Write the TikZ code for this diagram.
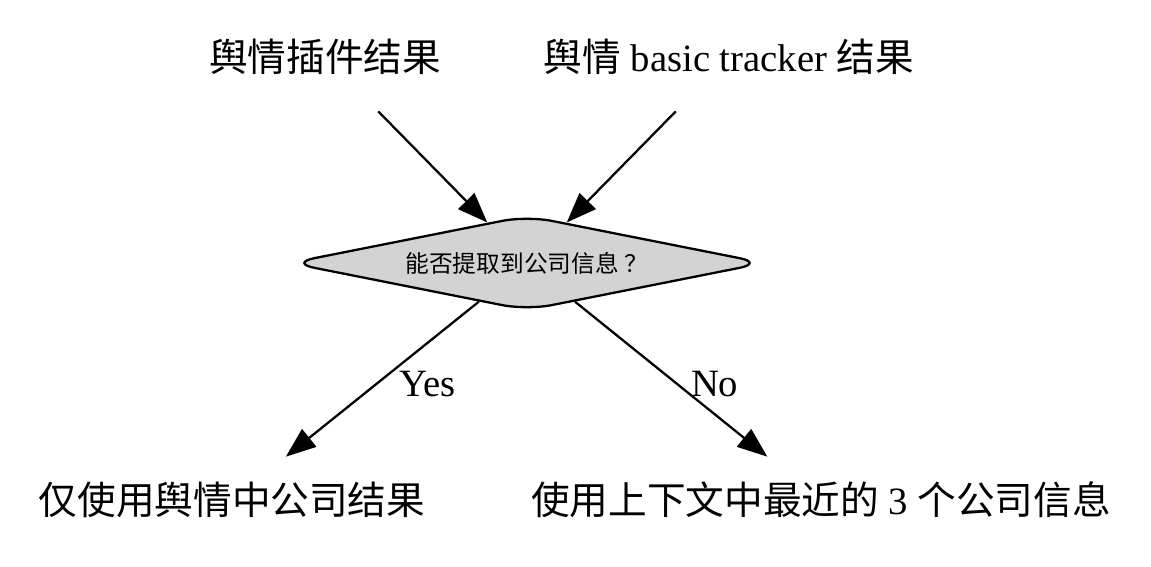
\documentclass[tikz,border=0pt]{standalone}
\usepackage{fontspec}
\setmainfont{Liberation Serif}
\newfontfamily\cjk{Noto Sans CJK SC}
\usepackage{tikz}
\usetikzlibrary{shapes.geometric, arrows.meta, positioning}
\usepackage{xcolor}
\definecolor{lgrey}{HTML}{D3D3D3}

\begin{document}
\begin{tikzpicture}[x=0.02cm, y=-0.02cm,
	txt/.style={font=\fontsize{22}{26}\selectfont, inner sep=0pt, minimum width=4cm},
	lbl/.style={font=\fontsize{22}{26}\selectfont},
	edge/.style={-{Triangle[length=0.6cm, width=0.45cm]}, line width=1.3pt}]
	\useasboundingbox (0,0) rectangle (1151,567);
	% sources
	\node[txt, minimum height=2.16cm] (plug) at (325,57) {\cjk 舆情插件结果};
	\node[txt, minimum height=2.16cm] (basic) at (729,57) {{\cjk 舆情} basic tracker {\cjk 结果}};
	% decision
	\node[diamond, aspect=5.1, draw, fill=lgrey, line width=1.3pt, rounded corners=0.5cm,
		minimum width=9.5cm, minimum height=1.9cm, inner sep=0pt,
		font=\fontsize{13.5}{16}\selectfont] (ask) at (527,263) {\cjk 能否提取到公司信息\kern0.25em？};
	% results
	\node[txt, minimum height=1.72cm] (yes) at (232,500) {\cjk 仅使用舆情中公司结果};
	\node[txt, minimum height=1.72cm] (no) at (821,500) {{\cjk 使用上下文中最近的} 3 {\cjk 个公司信息}};
	
	\draw[edge] (plug) -- (ask);
	\draw[edge] (basic) -- (ask);
	\draw[edge] (ask) -- node[lbl, pos=0.53, anchor=west, xshift=0.32cm] {Yes} (yes);
	\draw[edge] (ask) -- node[lbl, pos=0.53, anchor=west, xshift=0.14cm] {No} (no);
\end{tikzpicture}
\end{document}
